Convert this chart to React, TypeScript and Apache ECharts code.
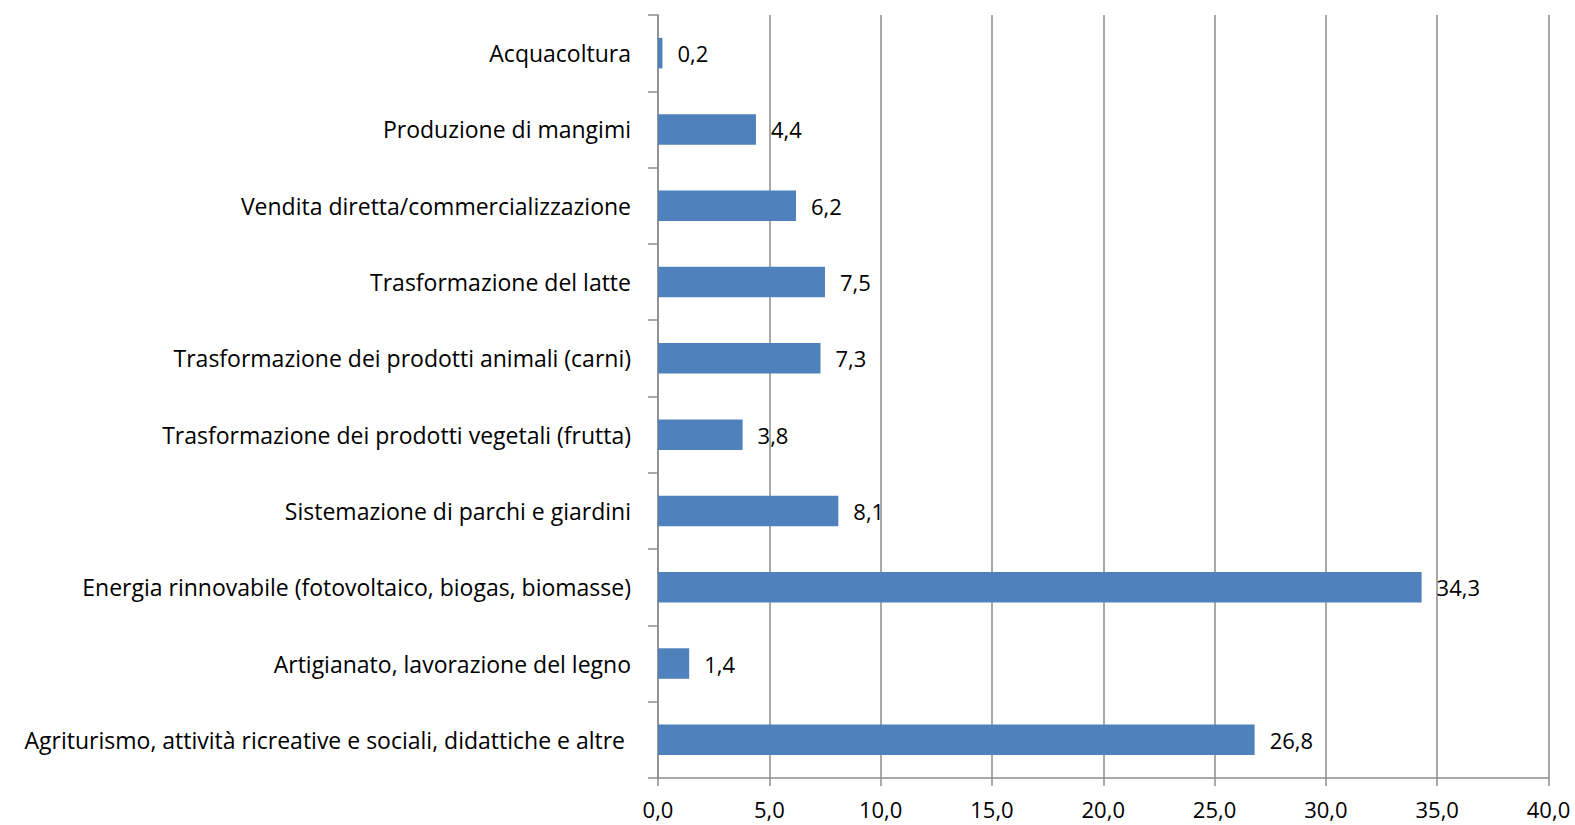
import React, { useEffect, useRef } from "react";
import * as echarts from "echarts";

const categories = [
  "Agriturismo, attività ricreative e sociali, didattiche e altre ",
  "Artigianato, lavorazione del legno",
  "Energia rinnovabile (fotovoltaico, biogas, biomasse)",
  "Sistemazione di parchi e giardini",
  "Trasformazione dei prodotti vegetali (frutta)",
  "Trasformazione dei prodotti animali (carni)",
  "Trasformazione del latte",
  "Vendita diretta/commercializzazione",
  "Produzione di mangimi",
  "Acquacoltura",
];
const values = [26.8, 1.4, 34.3, 8.1, 3.8, 7.3, 7.5, 6.2, 4.4, 0.2];
const xMin = 0;
const xMax = 40;
const xStep = 5;

const fmt = (v: number) => v.toFixed(1).replace(".", ",");

export default function App() {
  const ref = useRef<HTMLDivElement>(null);
  useEffect(() => {
    const chart = echarts.init(ref.current!, null, { renderer: "svg" });
    const font = "Open Sans";
    const gray = "#8c8c8c";
    chart.setOption({
      animation: false,
      backgroundColor: "#ffffff",
      grid: { left: 658, right: 26.5, top: 15, bottom: 47 },
      xAxis: {
        type: "value",
        min: xMin,
        max: xMax,
        interval: xStep,
        axisLine: { show: true, lineStyle: { color: gray, width: 1.5 } },
        axisTick: { show: true, length: 8, lineStyle: { color: gray, width: 1.5 } },
        splitLine: { show: true, lineStyle: { color: gray, width: 1.5 } },
        axisLabel: {
          color: "#000",
          fontFamily: font,
          fontSize: 22,
          lineHeight: 22,
          margin: 20,
          formatter: (v: number) => fmt(v),
        },
      },
      yAxis: {
        type: "category",
        data: categories,
        axisLine: { show: true, lineStyle: { color: gray, width: 1.5 } },
        axisTick: { show: true, length: 10, lineStyle: { color: gray, width: 1.5 } },
        axisLabel: {
          color: "#000",
          fontFamily: font,
          fontSize: 23,
          margin: 27,
        },
      },
      series: [
        {
          type: "bar",
          data: values,
          barCategoryGap: "60%",
          itemStyle: { color: "#4f81bd" },
          label: {
            show: true,
            position: "right",
            distance: 15,
            color: "#000",
            fontFamily: font,
            fontSize: 22,
            formatter: (p: any) => fmt(p.value),
          },
        },
      ],
    });
    return () => chart.dispose();
  }, []);
  return (
    <div
      ref={ref}
      style={{ position: "fixed", left: 0, top: 0, width: 1575, height: 825 }}
    />
  );
}
